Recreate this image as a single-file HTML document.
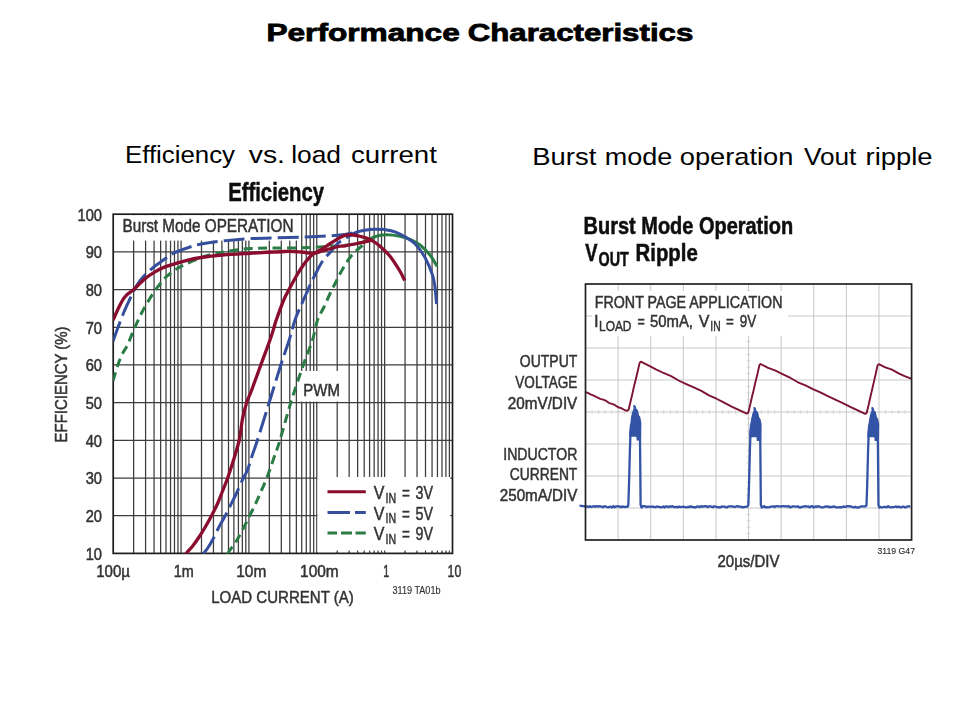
<!DOCTYPE html>
<html><head><meta charset="utf-8"><title>Performance Characteristics</title>
<style>
html,body{margin:0;padding:0;background:#fff;}
body{width:960px;height:720px;position:relative;overflow:hidden;font-family:"Liberation Sans",sans-serif;}
svg{position:absolute;left:0;top:0;}
svg text{font-family:"Liberation Sans",sans-serif;}
</style></head><body>
<svg width="960" height="720" viewBox="0 0 960 720">
<defs>
<filter id="soft" x="0" y="0" width="960" height="720" filterUnits="userSpaceOnUse"><feGaussianBlur stdDeviation="0.75"/></filter>
<clipPath id="clipL"><rect x="113.20" y="214.20" width="339.30" height="339.20"/></clipPath>
</defs>
<g font-size="24.6" font-weight="bold" fill="#000" stroke="#000" stroke-width="0.8" lengthAdjust="spacingAndGlyphs">
<text x="266.4" y="41" textLength="193.4" lengthAdjust="spacingAndGlyphs">Performance</text>
<text x="467.7" y="41" textLength="225.6" lengthAdjust="spacingAndGlyphs">Characteristics</text>
</g>
<g font-size="24.4" fill="#000">
<text x="125" y="163.4" textLength="110" lengthAdjust="spacingAndGlyphs">Efficiency</text>
<text x="248.8" y="163.4" textLength="36.2" lengthAdjust="spacingAndGlyphs">vs.</text>
<text x="291.2" y="163.4" textLength="49.8" lengthAdjust="spacingAndGlyphs">load</text>
<text x="351" y="163.4" textLength="85.9" lengthAdjust="spacingAndGlyphs">current</text>
<text x="532.3" y="164.5" textLength="64" lengthAdjust="spacingAndGlyphs">Burst</text>
<text x="604.7" y="164.5" textLength="67.5" lengthAdjust="spacingAndGlyphs">mode</text>
<text x="679.8" y="164.5" textLength="113.6" lengthAdjust="spacingAndGlyphs">operation</text>
<text x="803.9" y="164.5" textLength="52.5" lengthAdjust="spacingAndGlyphs">Vout</text>
<text x="865.6" y="164.5" textLength="67" lengthAdjust="spacingAndGlyphs">ripple</text>
</g>
<g filter="url(#soft)">
<path d="M133.63 214.20 V553.40 M145.58 214.20 V553.40 M154.06 214.20 V553.40 M160.63 214.20 V553.40 M166.01 214.20 V553.40 M170.55 214.20 V553.40 M174.48 214.20 V553.40 M177.95 214.20 V553.40 M181.06 214.20 V553.40 M201.49 214.20 V553.40 M213.44 214.20 V553.40 M221.92 214.20 V553.40 M228.49 214.20 V553.40 M233.87 214.20 V553.40 M238.41 214.20 V553.40 M242.34 214.20 V553.40 M245.81 214.20 V553.40 M248.92 214.20 V553.40 M269.35 214.20 V553.40 M281.30 214.20 V553.40 M289.78 214.20 V553.40 M296.35 214.20 V553.40 M301.73 214.20 V553.40 M306.27 214.20 V553.40 M310.20 214.20 V553.40 M313.67 214.20 V553.40 M316.78 214.20 V553.40 M337.21 214.20 V553.40 M349.16 214.20 V553.40 M357.64 214.20 V553.40 M364.21 214.20 V553.40 M369.59 214.20 V553.40 M374.13 214.20 V553.40 M378.06 214.20 V553.40 M381.53 214.20 V553.40 M384.64 214.20 V553.40 M405.07 214.20 V553.40 M417.02 214.20 V553.40 M425.50 214.20 V553.40 M432.07 214.20 V553.40 M437.45 214.20 V553.40 M441.99 214.20 V553.40 M445.92 214.20 V553.40 M449.39 214.20 V553.40 M113.20 515.71 H452.50 M113.20 478.02 H452.50 M113.20 440.33 H452.50 M113.20 402.64 H452.50 M113.20 364.96 H452.50 M113.20 327.27 H452.50 M113.20 289.58 H452.50 M113.20 251.89 H452.50" stroke="#3c3c3c" stroke-width="1.25" fill="none"/>
<rect x="114.20" y="215.20" width="185.80" height="25.40" fill="#fff"/>
<rect x="298" y="371" width="50" height="30.6" fill="#fff"/>
<rect x="317.5" y="477" width="132.7" height="74.8" fill="#fff"/>
<rect x="113.20" y="214.20" width="339.30" height="339.20" fill="none" stroke="#1e1e1e" stroke-width="1.7"/>
<g fill="none" stroke-width="3.0" stroke-linecap="butt" stroke-linejoin="round" clip-path="url(#clipL)">
<path d="M227.50 554.20 C227.92 553.50 228.54 552.16 230.00 550.00 C231.46 547.84 234.17 544.58 236.25 541.25 C238.33 537.92 240.31 534.17 242.50 530.00 C244.69 525.83 247.32 520.42 249.40 516.25 C251.48 512.08 253.23 508.75 255.00 505.00 C256.77 501.25 258.05 498.20 260.00 493.75 C261.95 489.30 264.45 484.09 266.70 478.30 C268.95 472.51 271.28 465.38 273.50 459.00 C275.72 452.62 277.12 449.42 280.00 440.00 C282.88 430.58 286.92 415.00 290.80 402.50 C294.68 390.00 299.68 375.42 303.30 365.00 C306.92 354.58 310.13 347.50 312.50 340.00 C314.87 332.50 315.62 325.42 317.50 320.00 C319.38 314.58 321.67 311.88 323.75 307.50 C325.83 303.12 328.12 297.71 330.00 293.75 C331.88 289.79 333.33 287.08 335.00 283.75 C336.67 280.42 338.33 276.88 340.00 273.75 C341.67 270.62 343.33 267.71 345.00 265.00 C346.67 262.29 348.33 259.67 350.00 257.50 C351.67 255.33 353.33 253.67 355.00 252.00 C356.67 250.33 357.83 249.33 360.00 247.50 C362.17 245.67 365.50 242.78 368.00 241.00 C370.50 239.22 373.83 237.50 375.00 236.80" stroke="#2b7c45" stroke-dasharray="9 5.4"/>
<path d="M113.00 381.00 C113.75 378.50 116.00 370.42 117.50 366.00 C119.00 361.58 120.33 358.00 122.00 354.50 C123.67 351.00 125.54 349.08 127.50 345.00 C129.46 340.92 131.25 335.62 133.75 330.00 C136.25 324.38 139.17 317.50 142.50 311.25 C145.83 305.00 150.00 298.02 153.75 292.50 C157.50 286.98 161.46 281.85 165.00 278.10 C168.54 274.35 171.67 272.28 175.00 270.00 C178.33 267.72 180.62 266.48 185.00 264.40 C189.38 262.32 196.46 259.27 201.25 257.50 C206.04 255.72 210.21 254.62 213.75 253.75 C217.29 252.88 216.46 253.11 222.50 252.25 C228.54 251.39 237.08 249.34 250.00 248.60 C262.92 247.86 287.50 248.13 300.00 247.80 C312.50 247.47 317.50 247.03 325.00 246.60 C332.50 246.17 339.17 245.80 345.00 245.20 C350.83 244.60 355.83 244.03 360.00 243.00 C364.17 241.97 367.50 240.07 370.00 239.00 C372.50 237.93 374.17 237.00 375.00 236.60" stroke="#2b7c45" stroke-dasharray="9 5.4"/>
<path d="M203.20 554.20 C203.40 553.92 203.58 553.62 204.40 552.50 C205.22 551.38 206.75 549.58 208.10 547.50 C209.45 545.42 210.72 543.33 212.50 540.00 C214.28 536.67 216.67 531.46 218.75 527.50 C220.83 523.54 223.12 519.79 225.00 516.25 C226.88 512.71 228.12 510.00 230.00 506.25 C231.88 502.50 234.07 498.38 236.25 493.75 C238.43 489.12 241.22 482.46 243.10 478.50 C244.97 474.54 246.02 473.75 247.50 470.00 C248.98 466.25 250.33 461.00 252.00 456.00 C253.67 451.00 254.63 448.92 257.50 440.00 C260.37 431.08 265.32 415.00 269.20 402.50 C273.08 390.00 277.47 375.42 280.80 365.00 C284.13 354.58 286.83 347.50 289.20 340.00 C291.57 332.50 292.99 325.83 295.00 320.00 C297.01 314.17 299.38 309.38 301.25 305.00 C303.12 300.62 304.58 297.50 306.25 293.75 C307.92 290.00 309.58 286.04 311.25 282.50 C312.92 278.96 314.38 276.04 316.25 272.50 C318.12 268.96 320.21 264.58 322.50 261.25 C324.79 257.92 327.50 255.42 330.00 252.50 C332.50 249.58 335.00 246.07 337.50 243.75 C340.00 241.43 342.58 240.14 345.00 238.60 C347.42 237.06 349.92 235.62 352.00 234.50 C354.08 233.38 356.58 232.33 357.50 231.90" stroke="#34509e" stroke-dasharray="21 6"/>
<path d="M113.10 341.25 C113.83 339.17 115.72 333.54 117.50 328.75 C119.28 323.96 121.67 317.50 123.75 312.50 C125.83 307.50 128.29 302.42 130.00 298.75 C131.71 295.08 132.67 293.04 134.00 290.50 C135.33 287.96 136.38 285.88 138.00 283.50 C139.62 281.12 141.33 278.82 143.75 276.25 C146.17 273.68 149.79 270.39 152.50 268.10 C155.21 265.81 157.29 264.48 160.00 262.50 C162.71 260.52 166.25 257.92 168.75 256.25 C171.25 254.58 171.46 254.04 175.00 252.50 C178.54 250.96 185.62 248.42 190.00 247.00 C194.38 245.58 195.83 245.00 201.25 244.00 C206.67 243.00 214.38 241.90 222.50 241.00 C230.62 240.10 237.08 239.23 250.00 238.60 C262.92 237.97 285.42 237.75 300.00 237.20 C314.58 236.65 327.92 236.18 337.50 235.30 C347.08 234.42 354.17 232.47 357.50 231.90" stroke="#34509e" stroke-dasharray="21 6"/>
<path d="M368.00 241.00 C369.17 240.28 372.00 237.74 375.00 236.70 C378.00 235.66 381.83 234.82 386.00 234.75 C390.17 234.68 396.00 235.47 400.00 236.25 C404.00 237.03 406.67 237.94 410.00 239.40 C413.33 240.86 416.67 242.40 420.00 245.00 C423.33 247.60 427.17 251.46 430.00 255.00 C432.83 258.54 435.83 264.38 437.00 266.25" stroke="#2b7c45"/>
<path d="M350.00 235.60 C351.25 234.98 354.17 232.90 357.50 231.90 C360.83 230.90 366.25 230.02 370.00 229.60 C373.75 229.18 377.50 229.40 380.00 229.40 C382.50 229.40 382.50 229.18 385.00 229.60 C387.50 230.02 391.67 230.68 395.00 231.90 C398.33 233.12 401.67 234.93 405.00 236.90 C408.33 238.88 411.67 240.32 415.00 243.75 C418.33 247.18 422.08 252.29 425.00 257.50 C427.92 262.71 430.83 270.00 432.50 275.00 C434.17 280.00 434.33 282.67 435.00 287.50 C435.67 292.33 436.25 301.25 436.50 304.00" stroke="#34509e"/>
<path d="M113.10 320.00 C114.04 317.92 117.10 310.92 118.75 307.50 C120.40 304.08 121.92 301.32 123.00 299.50 C124.08 297.68 124.37 297.55 125.20 296.60 C126.03 295.65 126.58 295.00 128.00 293.80 C129.43 292.60 130.92 291.91 133.75 289.40 C136.58 286.89 141.46 281.67 145.00 278.75 C148.54 275.83 151.67 273.88 155.00 271.90 C158.33 269.92 161.67 268.26 165.00 266.90 C168.33 265.54 171.67 264.77 175.00 263.75 C178.33 262.73 180.62 261.84 185.00 260.80 C189.38 259.76 195.00 258.47 201.25 257.50 C207.50 256.53 214.38 255.70 222.50 255.00 C230.62 254.30 239.58 253.88 250.00 253.30 C260.42 252.72 276.46 251.72 285.00 251.50 C293.54 251.28 296.46 251.68 301.25 252.00 C306.04 252.32 310.29 253.57 313.75 253.40 C317.21 253.23 319.29 251.78 322.00 251.00 C324.71 250.22 327.00 249.54 330.00 248.75 C333.00 247.96 337.50 246.74 340.00 246.25 C342.50 245.76 342.50 246.18 345.00 245.80 C347.50 245.43 351.67 244.65 355.00 244.00 C358.33 243.35 362.00 242.57 365.00 241.90 C368.00 241.23 371.67 240.32 373.00 240.00" stroke="#8a0a2e" stroke-width="3.3"/>
<path d="M185.50 554.20 C185.73 553.92 185.73 553.83 186.90 552.50 C188.07 551.17 190.53 548.75 192.50 546.25 C194.47 543.75 196.67 540.62 198.75 537.50 C200.83 534.38 202.92 531.04 205.00 527.50 C207.08 523.96 209.17 520.21 211.25 516.25 C213.33 512.29 215.62 507.92 217.50 503.75 C219.38 499.58 220.83 495.46 222.50 491.25 C224.17 487.04 226.20 482.04 227.50 478.50 C228.80 474.96 229.08 473.75 230.30 470.00 C231.52 466.25 233.30 461.00 234.80 456.00 C236.30 451.00 238.28 444.33 239.30 440.00 C240.32 435.67 240.35 433.62 240.90 430.00 C241.45 426.38 241.63 422.88 242.60 418.30 C243.57 413.72 245.18 407.22 246.70 402.50 C248.22 397.78 249.35 396.25 251.70 390.00 C254.05 383.75 257.75 373.33 260.80 365.00 C263.85 356.67 267.80 346.25 270.00 340.00 C272.20 333.75 272.96 330.83 274.00 327.50 C275.04 324.17 274.62 324.58 276.25 320.00 C277.88 315.42 281.56 305.21 283.75 300.00 C285.94 294.79 287.32 292.71 289.40 288.75 C291.48 284.79 294.07 280.00 296.25 276.25 C298.43 272.50 300.42 269.27 302.50 266.25 C304.58 263.23 306.88 260.18 308.75 258.10 C310.62 256.02 311.46 255.31 313.75 253.75 C316.04 252.19 319.79 250.42 322.50 248.75 C325.21 247.08 327.08 245.62 330.00 243.75 C332.92 241.88 337.50 238.89 340.00 237.50 C342.50 236.11 343.17 235.86 345.00 235.40 C346.83 234.94 348.50 234.61 351.00 234.75 C353.50 234.89 356.83 235.47 360.00 236.25 C363.17 237.03 366.67 237.73 370.00 239.40 C373.33 241.07 376.67 243.44 380.00 246.25 C383.33 249.06 386.67 252.08 390.00 256.25 C393.33 260.42 397.54 267.19 400.00 271.25 C402.46 275.31 403.96 279.04 404.75 280.60" stroke="#8a0a2e" stroke-width="3.3"/>
</g>
<g fill="none" stroke-width="3">
<path d="M327.5 491.7H365.8" stroke="#8a0a2e"/>
<path d="M327.5 512.5H350M355 512.5H365.8" stroke="#34509e"/>
<path d="M327.5 533H337M341 533H352M355.5 533H365.8" stroke="#2b7c45"/>
</g>
<path d="M337.21 553.40 V550.40 M349.16 553.40 V550.40 M357.64 553.40 V550.40 M364.21 553.40 V550.40 M369.59 553.40 V550.40 M374.13 553.40 V550.40 M378.06 553.40 V550.40 M381.53 553.40 V550.40 M384.64 553.40 V550.40 M405.07 553.40 V550.40 M417.02 553.40 V550.40 M425.50 553.40 V550.40 M432.07 553.40 V550.40 M437.45 553.40 V550.40 M441.99 553.40 V550.40 M445.92 553.40 V550.40 M449.39 553.40 V550.40" stroke="#3c3c3c" stroke-width="1.1"/>
<text x="228.20" y="200.60" font-size="25.60" text-anchor="start" font-weight="bold" fill="#111" textLength="95.80" lengthAdjust="spacingAndGlyphs"  stroke="#111" stroke-width="0.55">Efficiency</text>
<text x="122.50" y="231.90" font-size="18.00" text-anchor="start" font-weight="normal" fill="#333333" textLength="171.00" lengthAdjust="spacingAndGlyphs"  stroke="#333333" stroke-width="0.50">Burst Mode OPERATION</text>
<text x="303.30" y="396.30" font-size="17.00" text-anchor="start" font-weight="normal" fill="#333333" textLength="36.70" lengthAdjust="spacingAndGlyphs"  stroke="#333333" stroke-width="0.50">PWM</text>
<text x="373.75" y="499.40" font-size="18.30" text-anchor="start" font-weight="normal" fill="#333333" textLength="10.65" lengthAdjust="spacingAndGlyphs"  stroke="#333333" stroke-width="0.50">V</text>
<text x="385.60" y="503.10" font-size="14.80" text-anchor="start" font-weight="normal" fill="#333333" textLength="10.60" lengthAdjust="spacingAndGlyphs"  stroke="#333333" stroke-width="0.50">IN</text>
<text x="401.90" y="499.40" font-size="18.30" text-anchor="start" font-weight="normal" fill="#333333" textLength="7.85" lengthAdjust="spacingAndGlyphs"  stroke="#333333" stroke-width="0.50">=</text>
<text x="415.60" y="499.40" font-size="18.30" text-anchor="start" font-weight="normal" fill="#333333" textLength="17.50" lengthAdjust="spacingAndGlyphs"  stroke="#333333" stroke-width="0.50">3V</text>
<text x="373.75" y="519.75" font-size="18.30" text-anchor="start" font-weight="normal" fill="#333333" textLength="10.65" lengthAdjust="spacingAndGlyphs"  stroke="#333333" stroke-width="0.50">V</text>
<text x="385.60" y="523.45" font-size="14.80" text-anchor="start" font-weight="normal" fill="#333333" textLength="10.60" lengthAdjust="spacingAndGlyphs"  stroke="#333333" stroke-width="0.50">IN</text>
<text x="401.90" y="519.75" font-size="18.30" text-anchor="start" font-weight="normal" fill="#333333" textLength="7.85" lengthAdjust="spacingAndGlyphs"  stroke="#333333" stroke-width="0.50">=</text>
<text x="415.60" y="519.75" font-size="18.30" text-anchor="start" font-weight="normal" fill="#333333" textLength="17.50" lengthAdjust="spacingAndGlyphs"  stroke="#333333" stroke-width="0.50">5V</text>
<text x="373.75" y="540.40" font-size="18.30" text-anchor="start" font-weight="normal" fill="#333333" textLength="10.65" lengthAdjust="spacingAndGlyphs"  stroke="#333333" stroke-width="0.50">V</text>
<text x="385.60" y="544.10" font-size="14.80" text-anchor="start" font-weight="normal" fill="#333333" textLength="10.60" lengthAdjust="spacingAndGlyphs"  stroke="#333333" stroke-width="0.50">IN</text>
<text x="401.90" y="540.40" font-size="18.30" text-anchor="start" font-weight="normal" fill="#333333" textLength="7.85" lengthAdjust="spacingAndGlyphs"  stroke="#333333" stroke-width="0.50">=</text>
<text x="415.60" y="540.40" font-size="18.30" text-anchor="start" font-weight="normal" fill="#333333" textLength="17.50" lengthAdjust="spacingAndGlyphs"  stroke="#333333" stroke-width="0.50">9V</text>
<text x="102.00" y="559.80" font-size="16.40" text-anchor="end" font-weight="normal" fill="#333333" textLength="16.34" lengthAdjust="spacingAndGlyphs"  stroke="#333333" stroke-width="0.50">10</text>
<text x="102.00" y="522.11" font-size="16.40" text-anchor="end" font-weight="normal" fill="#333333" textLength="16.34" lengthAdjust="spacingAndGlyphs"  stroke="#333333" stroke-width="0.50">20</text>
<text x="102.00" y="484.42" font-size="16.40" text-anchor="end" font-weight="normal" fill="#333333" textLength="16.34" lengthAdjust="spacingAndGlyphs"  stroke="#333333" stroke-width="0.50">30</text>
<text x="102.00" y="446.73" font-size="16.40" text-anchor="end" font-weight="normal" fill="#333333" textLength="16.34" lengthAdjust="spacingAndGlyphs"  stroke="#333333" stroke-width="0.50">40</text>
<text x="102.00" y="409.04" font-size="16.40" text-anchor="end" font-weight="normal" fill="#333333" textLength="16.34" lengthAdjust="spacingAndGlyphs"  stroke="#333333" stroke-width="0.50">50</text>
<text x="102.00" y="371.36" font-size="16.40" text-anchor="end" font-weight="normal" fill="#333333" textLength="16.34" lengthAdjust="spacingAndGlyphs"  stroke="#333333" stroke-width="0.50">60</text>
<text x="102.00" y="333.67" font-size="16.40" text-anchor="end" font-weight="normal" fill="#333333" textLength="16.34" lengthAdjust="spacingAndGlyphs"  stroke="#333333" stroke-width="0.50">70</text>
<text x="102.00" y="295.98" font-size="16.40" text-anchor="end" font-weight="normal" fill="#333333" textLength="16.34" lengthAdjust="spacingAndGlyphs"  stroke="#333333" stroke-width="0.50">80</text>
<text x="102.00" y="258.29" font-size="16.40" text-anchor="end" font-weight="normal" fill="#333333" textLength="16.34" lengthAdjust="spacingAndGlyphs"  stroke="#333333" stroke-width="0.50">90</text>
<text x="102.00" y="220.60" font-size="16.40" text-anchor="end" font-weight="normal" fill="#333333" textLength="24.51" lengthAdjust="spacingAndGlyphs"  stroke="#333333" stroke-width="0.50">100</text>
<text x="113.10" y="577.00" font-size="16.40" text-anchor="middle" font-weight="normal" fill="#333333" textLength="33.75" lengthAdjust="spacingAndGlyphs"  stroke="#333333" stroke-width="0.50">100µ</text>
<text x="183.75" y="577.00" font-size="16.40" text-anchor="middle" font-weight="normal" fill="#333333" textLength="20.00" lengthAdjust="spacingAndGlyphs"  stroke="#333333" stroke-width="0.50">1m</text>
<text x="251.25" y="577.00" font-size="16.40" text-anchor="middle" font-weight="normal" fill="#333333" textLength="30.00" lengthAdjust="spacingAndGlyphs"  stroke="#333333" stroke-width="0.50">10m</text>
<text x="319.40" y="577.00" font-size="16.40" text-anchor="middle" font-weight="normal" fill="#333333" textLength="38.75" lengthAdjust="spacingAndGlyphs"  stroke="#333333" stroke-width="0.50">100m</text>
<text x="386.20" y="577.00" font-size="16.40" text-anchor="middle" font-weight="normal" fill="#333333" textLength="6.00" lengthAdjust="spacingAndGlyphs"  stroke="#333333" stroke-width="0.50">1</text>
<text x="454.40" y="577.00" font-size="16.40" text-anchor="middle" font-weight="normal" fill="#333333" textLength="13.75" lengthAdjust="spacingAndGlyphs"  stroke="#333333" stroke-width="0.50">10</text>
<text x="282.50" y="602.50" font-size="17.30" text-anchor="middle" font-weight="normal" fill="#333333" textLength="142.50" lengthAdjust="spacingAndGlyphs"  stroke="#333333" stroke-width="0.50">LOAD CURRENT (A)</text>
<text x="392.50" y="593.75" font-size="10.00" text-anchor="start" font-weight="normal" fill="#333333" textLength="48.00" lengthAdjust="spacingAndGlyphs"  stroke="#333333" stroke-width="0.15">3119 TA01b</text>
<text transform="translate(67.4 384.4) rotate(-90)" font-size="15.8" text-anchor="middle" fill="#333333" stroke="#333" stroke-width="0.5" textLength="116" lengthAdjust="spacingAndGlyphs">EFFICIENCY (%)</text>
</g>
<g filter="url(#soft)">
<path d="M618.11 284.00 V540.00 M650.72 284.00 V540.00 M683.33 284.00 V540.00 M715.94 284.00 V540.00 M748.55 284.00 V540.00 M781.16 284.00 V540.00 M813.77 284.00 V540.00 M846.38 284.00 V540.00 M878.99 284.00 V540.00 M585.50 316.00 H911.60 M585.50 348.00 H911.60 M585.50 380.00 H911.60 M585.50 412.00 H911.60 M585.50 444.00 H911.60 M585.50 476.00 H911.60 M585.50 508.00 H911.60" stroke="#c2c2c2" stroke-width="0.9" fill="none"/>
<path d="M592.02 410.00 V414.00 M598.54 410.00 V414.00 M605.07 410.00 V414.00 M611.59 410.00 V414.00 M624.63 410.00 V414.00 M631.15 410.00 V414.00 M637.68 410.00 V414.00 M644.20 410.00 V414.00 M657.24 410.00 V414.00 M663.76 410.00 V414.00 M670.29 410.00 V414.00 M676.81 410.00 V414.00 M689.85 410.00 V414.00 M696.37 410.00 V414.00 M702.90 410.00 V414.00 M709.42 410.00 V414.00 M722.46 410.00 V414.00 M728.98 410.00 V414.00 M735.51 410.00 V414.00 M742.03 410.00 V414.00 M755.07 410.00 V414.00 M761.59 410.00 V414.00 M768.12 410.00 V414.00 M774.64 410.00 V414.00 M787.68 410.00 V414.00 M794.20 410.00 V414.00 M800.73 410.00 V414.00 M807.25 410.00 V414.00 M820.29 410.00 V414.00 M826.81 410.00 V414.00 M833.34 410.00 V414.00 M839.86 410.00 V414.00 M852.90 410.00 V414.00 M859.42 410.00 V414.00 M865.95 410.00 V414.00 M872.47 410.00 V414.00 M885.51 410.00 V414.00 M892.03 410.00 V414.00 M898.56 410.00 V414.00 M905.08 410.00 V414.00 M746.55 290.40 H750.55 M746.55 296.80 H750.55 M746.55 303.20 H750.55 M746.55 309.60 H750.55 M746.55 322.40 H750.55 M746.55 328.80 H750.55 M746.55 335.20 H750.55 M746.55 341.60 H750.55 M746.55 354.40 H750.55 M746.55 360.80 H750.55 M746.55 367.20 H750.55 M746.55 373.60 H750.55 M746.55 386.40 H750.55 M746.55 392.80 H750.55 M746.55 399.20 H750.55 M746.55 405.60 H750.55 M746.55 418.40 H750.55 M746.55 424.80 H750.55 M746.55 431.20 H750.55 M746.55 437.60 H750.55 M746.55 450.40 H750.55 M746.55 456.80 H750.55 M746.55 463.20 H750.55 M746.55 469.60 H750.55 M746.55 482.40 H750.55 M746.55 488.80 H750.55 M746.55 495.20 H750.55 M746.55 501.60 H750.55 M746.55 514.40 H750.55 M746.55 520.80 H750.55 M746.55 527.20 H750.55 M746.55 533.60 H750.55" stroke="#d2d2d2" stroke-width="0.9" fill="none"/>
<rect x="592" y="291" width="196" height="45" fill="#fff"/>
<path d="M585.30 392.00 L588.29 393.08 L591.27 394.73 L594.26 395.90 L597.24 397.48 L600.23 398.84 L603.21 399.62 L606.20 400.91 L609.19 403.08 L612.17 403.85 L615.16 405.16 L618.14 407.27 L621.13 408.08 L624.11 409.79 L627.10 410.80 L628.60 409.80 L630.43 401.96 L632.27 394.31 L634.10 386.00 L635.93 378.67 L637.77 371.08 L639.60 362.90 L640.80 361.70 L648.37 365.43 L655.94 369.36 L663.51 372.99 L671.09 376.09 L678.66 380.49 L686.23 384.03 L693.80 387.45 L701.37 390.89 L708.94 395.43 L716.51 398.74 L724.09 402.70 L731.66 406.56 L739.23 410.11 L746.80 413.60 L748.30 412.60 L750.15 405.12 L752.00 396.69 L753.85 389.20 L755.70 380.94 L757.55 373.54 L759.40 365.20 L760.60 364.00 L768.07 367.94 L775.54 370.73 L783.01 374.33 L790.49 377.97 L797.96 382.29 L805.43 385.32 L812.90 389.08 L820.37 392.32 L827.84 396.09 L835.31 399.53 L842.79 403.06 L850.26 406.86 L857.73 410.42 L865.20 413.90 L866.70 412.90 L868.51 405.39 L870.32 397.25 L872.12 389.58 L873.93 381.59 L875.74 373.81 L877.55 365.40 L878.75 364.20 L885.36 367.29 L891.97 369.70 L898.58 373.32 L905.19 376.34 L911.80 378.80" stroke="#7c1230" stroke-width="1.9" fill="none" stroke-linejoin="round"/>
<path d="M629.20 436.70 L629.30 431.70 L630.20 426.70 L631.00 422.50 L631.70 416.70 L632.90 411.70 L634.20 408.30 L635.00 406.25 L636.00 409.20 L637.50 410.80 L638.50 415.80 L639.80 417.50 L640.80 423.30 L641.00 440.40 L636.70 440.40 L636.30 436.70 Z M749.20 437.30 L749.30 432.30 L750.22 427.30 L751.04 423.10 L751.75 418.70 L752.97 413.70 L754.30 410.30 L755.12 408.25 L756.14 411.20 L757.67 412.80 L758.69 417.80 L760.01 419.50 L761.03 423.90 L761.24 441.00 L756.85 441.00 L756.44 437.30 Z M867.40 437.30 L867.50 432.30 L868.37 427.30 L869.15 423.10 L869.82 418.70 L870.99 413.70 L872.25 410.30 L873.03 408.25 L874.00 411.20 L875.45 412.80 L876.42 417.80 L877.68 419.50 L878.65 423.90 L878.85 441.00 L874.67 441.00 L874.29 437.30 Z" fill="#3353a6"/>
<path d="M579.50 505.60 L585.30 506.40 L586.00 506.55 L587.30 506.31 L588.60 507.01 L589.90 506.20 L591.20 506.85 L592.50 506.61 L593.80 506.18 L595.10 506.81 L596.40 506.15 L597.70 506.71 L599.00 506.20 L600.30 506.23 L601.60 506.69 L602.90 507.26 L604.20 506.27 L605.50 506.41 L606.80 506.98 L608.10 507.43 L609.40 506.91 L610.70 506.66 L612.00 507.47 L613.30 506.17 L614.60 507.30 L615.90 506.51 L617.20 506.30 L618.50 506.26 L619.80 506.53 L621.10 507.24 L622.40 506.35 L623.70 506.91 L625.00 506.99 L626.30 506.62 L627.60 506.87 L628.30 505.30 L629.00 485.00 L629.90 450.00 L630.40 436.00 L630.80 426.70 L631.60 422.50 L632.30 416.70 L633.50 411.70 L634.80 408.30 L634.40 406.25 L635.40 409.20 L636.90 410.80 L637.90 415.80 L639.20 417.50 L640.20 423.30 L640.00 440.00 L640.30 470.00 L640.60 504.80 L641.60 507.60 L642.60 506.19 L643.90 506.18 L645.20 506.39 L646.50 507.05 L647.80 506.70 L649.10 506.54 L650.40 506.92 L651.70 506.73 L653.00 506.52 L654.30 507.21 L655.60 507.08 L656.90 506.44 L658.20 506.90 L659.50 506.84 L660.80 507.33 L662.10 507.12 L663.40 506.50 L664.70 507.47 L666.00 506.27 L667.30 506.69 L668.60 507.16 L669.90 506.31 L671.20 506.78 L672.50 506.15 L673.80 507.04 L675.10 507.17 L676.40 506.90 L677.70 507.33 L679.00 506.54 L680.30 507.07 L681.60 506.93 L682.90 506.91 L684.20 506.74 L685.50 507.28 L686.80 507.42 L688.10 506.76 L689.40 507.03 L690.70 506.18 L692.00 507.08 L693.30 507.01 L694.60 507.49 L695.90 507.25 L697.20 506.50 L698.50 506.64 L699.80 507.04 L701.10 506.13 L702.40 506.75 L703.70 506.34 L705.00 506.26 L706.30 506.18 L707.60 507.18 L708.90 506.28 L710.20 506.45 L711.50 506.65 L712.80 507.32 L714.10 506.21 L715.40 506.73 L716.70 506.87 L718.00 507.34 L719.30 507.25 L720.60 507.31 L721.90 506.49 L723.20 506.68 L724.50 506.60 L725.80 507.34 L727.10 507.44 L728.40 506.31 L729.70 506.35 L731.00 506.42 L732.30 506.43 L733.60 506.78 L734.90 506.92 L736.20 506.47 L737.50 506.11 L738.80 506.69 L740.10 506.62 L741.40 506.89 L742.70 507.43 L744.00 507.07 L745.30 506.82 L746.60 506.96 L748.30 505.30 L749.00 485.00 L749.90 450.00 L750.40 436.00 L750.82 427.30 L751.64 423.10 L752.35 418.70 L753.57 413.70 L754.90 410.30 L754.52 408.25 L755.54 411.20 L757.07 412.80 L758.09 417.80 L759.41 419.50 L760.43 423.90 L760.24 440.00 L760.54 470.00 L760.84 504.80 L761.84 507.60 L762.84 507.05 L764.14 506.18 L765.44 507.36 L766.74 507.19 L768.04 507.32 L769.34 507.22 L770.64 506.65 L771.94 506.66 L773.24 506.24 L774.54 506.99 L775.84 506.19 L777.14 506.19 L778.44 506.39 L779.74 506.33 L781.04 506.58 L782.34 506.17 L783.64 506.10 L784.94 506.31 L786.24 506.24 L787.54 506.61 L788.84 506.14 L790.14 507.32 L791.44 506.96 L792.74 506.31 L794.04 506.45 L795.34 506.59 L796.64 506.61 L797.94 506.27 L799.24 507.29 L800.54 507.49 L801.84 506.75 L803.14 506.78 L804.44 506.22 L805.74 506.24 L807.04 506.58 L808.34 506.47 L809.64 507.26 L810.94 506.33 L812.24 506.13 L813.54 507.43 L814.84 506.84 L816.14 506.31 L817.44 506.86 L818.74 506.14 L820.04 506.84 L821.34 507.47 L822.64 507.31 L823.94 507.07 L825.24 506.47 L826.54 506.61 L827.84 506.33 L829.14 507.18 L830.44 506.85 L831.74 507.19 L833.04 506.56 L834.34 506.41 L835.64 507.24 L836.94 507.48 L838.24 507.29 L839.54 507.23 L840.84 507.25 L842.14 507.14 L843.44 506.42 L844.74 506.82 L846.04 506.60 L847.34 506.14 L848.64 506.14 L849.94 506.49 L851.24 506.46 L852.54 507.07 L853.84 507.44 L855.14 506.73 L856.44 507.41 L857.74 507.48 L859.04 507.44 L860.34 506.61 L861.64 506.41 L862.94 506.42 L864.24 506.38 L865.54 506.39 L866.50 505.30 L867.20 485.00 L868.10 450.00 L868.60 436.00 L868.97 427.30 L869.75 423.10 L870.42 418.70 L871.59 413.70 L872.85 410.30 L872.43 408.25 L873.40 411.20 L874.85 412.80 L875.82 417.80 L877.08 419.50 L878.05 423.90 L877.85 440.00 L878.15 470.00 L878.45 504.80 L879.45 507.60 L880.45 506.97 L881.75 507.36 L883.05 507.28 L884.35 506.77 L885.65 507.01 L886.95 507.22 L888.25 506.22 L889.55 507.02 L890.85 507.37 L892.15 507.20 L893.45 507.15 L894.75 506.77 L896.05 506.35 L897.35 507.20 L898.65 506.57 L899.95 507.22 L901.25 507.46 L902.55 506.65 L903.85 506.66 L905.15 507.43 L906.45 507.11 L907.75 506.34 L909.05 506.28 L910.35 506.31" stroke="#3353a6" stroke-width="2.3" fill="none" stroke-linejoin="round"/>
<rect x="585.50" y="284.00" width="326.10" height="256.00" fill="none" stroke="#222" stroke-width="1.7"/>
<text x="583.60" y="233.50" font-size="23.70" text-anchor="start" font-weight="bold" fill="#111" textLength="209.60" lengthAdjust="spacingAndGlyphs"  stroke="#111" stroke-width="0.55">Burst Mode Operation</text>
<text x="585.25" y="260.60" font-size="23.70" text-anchor="start" font-weight="bold" fill="#111" textLength="12.25" lengthAdjust="spacingAndGlyphs"  stroke="#111" stroke-width="0.55">V</text>
<text x="598.50" y="266.00" font-size="19.50" text-anchor="start" font-weight="bold" fill="#111" textLength="30.25" lengthAdjust="spacingAndGlyphs"  stroke="#111" stroke-width="0.55">OUT</text>
<text x="635.60" y="260.60" font-size="23.70" text-anchor="start" font-weight="bold" fill="#111" textLength="62.10" lengthAdjust="spacingAndGlyphs"  stroke="#111" stroke-width="0.55">Ripple</text>
<text x="594.75" y="307.50" font-size="16.60" text-anchor="start" font-weight="normal" fill="#333333" textLength="187.75" lengthAdjust="spacingAndGlyphs"  stroke="#333333" stroke-width="0.50">FRONT PAGE APPLICATION</text>
<text x="594.10" y="326.90" font-size="16.60" text-anchor="start" font-weight="normal" fill="#333333"  stroke="#333333" stroke-width="0.50">I</text>
<text x="599.00" y="331.00" font-size="15.00" text-anchor="start" font-weight="normal" fill="#333333" textLength="32.50" lengthAdjust="spacingAndGlyphs"  stroke="#333333" stroke-width="0.50">LOAD</text>
<text x="637.50" y="326.90" font-size="16.60" text-anchor="start" font-weight="normal" fill="#333333" textLength="7.25" lengthAdjust="spacingAndGlyphs"  stroke="#333333" stroke-width="0.50">=</text>
<text x="650.00" y="326.90" font-size="16.60" text-anchor="start" font-weight="normal" fill="#333333" textLength="43.00" lengthAdjust="spacingAndGlyphs"  stroke="#333333" stroke-width="0.50">50mA,</text>
<text x="698.75" y="326.90" font-size="16.60" text-anchor="start" font-weight="normal" fill="#333333" textLength="10.65" lengthAdjust="spacingAndGlyphs"  stroke="#333333" stroke-width="0.50">V</text>
<text x="710.30" y="331.00" font-size="15.00" text-anchor="start" font-weight="normal" fill="#333333" textLength="10.30" lengthAdjust="spacingAndGlyphs"  stroke="#333333" stroke-width="0.50">IN</text>
<text x="726.00" y="326.90" font-size="16.60" text-anchor="start" font-weight="normal" fill="#333333" textLength="7.75" lengthAdjust="spacingAndGlyphs"  stroke="#333333" stroke-width="0.50">=</text>
<text x="739.75" y="326.90" font-size="16.60" text-anchor="start" font-weight="normal" fill="#333333" textLength="16.50" lengthAdjust="spacingAndGlyphs"  stroke="#333333" stroke-width="0.50">9V</text>
<text x="577.30" y="367.00" font-size="16.20" text-anchor="end" font-weight="normal" fill="#333333" textLength="57.50" lengthAdjust="spacingAndGlyphs"  stroke="#333333" stroke-width="0.50">OUTPUT</text>
<text x="577.30" y="387.60" font-size="16.20" text-anchor="end" font-weight="normal" fill="#333333" textLength="62.00" lengthAdjust="spacingAndGlyphs"  stroke="#333333" stroke-width="0.50">VOLTAGE</text>
<text x="577.30" y="408.75" font-size="16.20" text-anchor="end" font-weight="normal" fill="#333333" textLength="69.50" lengthAdjust="spacingAndGlyphs"  stroke="#333333" stroke-width="0.50">20mV/DIV</text>
<text x="577.30" y="459.50" font-size="16.20" text-anchor="end" font-weight="normal" fill="#333333" textLength="74.00" lengthAdjust="spacingAndGlyphs"  stroke="#333333" stroke-width="0.50">INDUCTOR</text>
<text x="577.30" y="480.00" font-size="16.20" text-anchor="end" font-weight="normal" fill="#333333" textLength="67.50" lengthAdjust="spacingAndGlyphs"  stroke="#333333" stroke-width="0.50">CURRENT</text>
<text x="577.30" y="501.25" font-size="16.20" text-anchor="end" font-weight="normal" fill="#333333" textLength="77.50" lengthAdjust="spacingAndGlyphs"  stroke="#333333" stroke-width="0.50">250mA/DIV</text>
<text x="748.50" y="566.75" font-size="16.40" text-anchor="middle" font-weight="normal" fill="#333333" textLength="62.00" lengthAdjust="spacingAndGlyphs"  stroke="#333333" stroke-width="0.50">20µs/DIV</text>
<text x="877.50" y="554.25" font-size="9.50" text-anchor="start" font-weight="normal" fill="#333333" textLength="37.50" lengthAdjust="spacingAndGlyphs"  stroke="#333333" stroke-width="0.15">3119 G47</text>
</g>

</svg>
</body></html>
